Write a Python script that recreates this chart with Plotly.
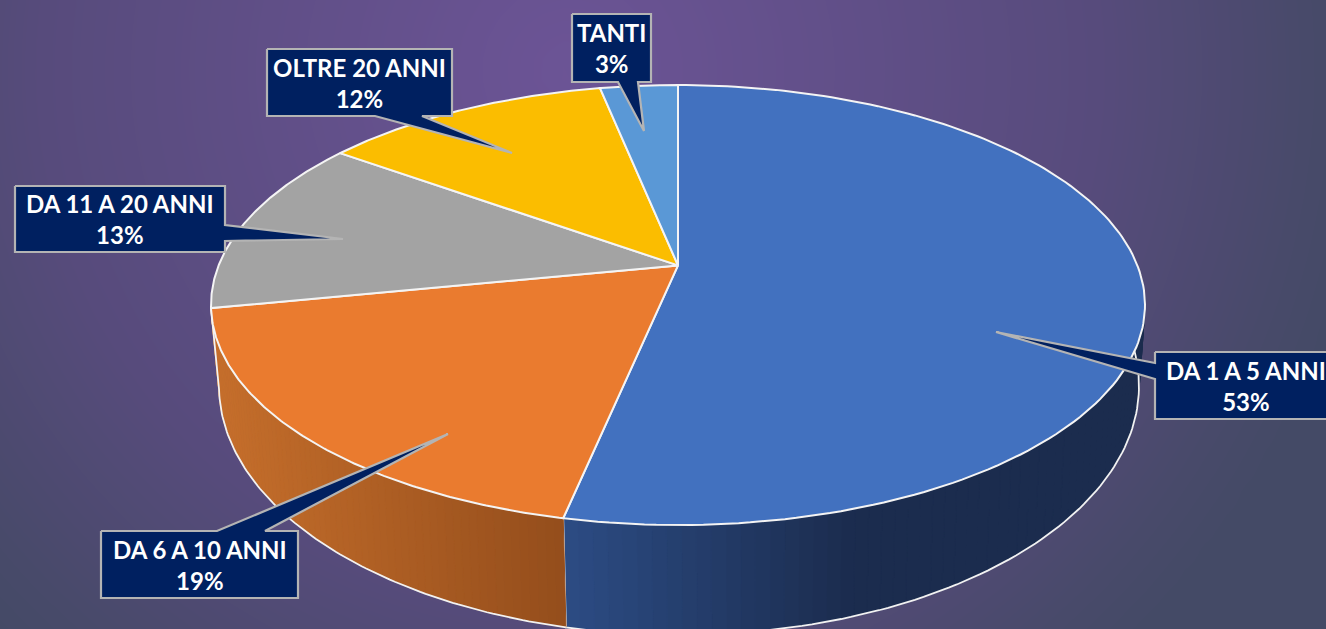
import numpy as np
import plotly.graph_objects as go

# ---- data ----
categories = ["DA 1 A 5 ANNI", "DA 6 A 10 ANNI", "DA 11 A 20 ANNI", "OLTRE 20 ANNI", "TANTI"]
shares = [53.3, 18.6, 13.0, 11.9, 3.2]
colors = ["#4271BF", "#EA7B2F", "#A3A3A3", "#FBBD00", "#5A98D6"]

# ---- layout constants (pixels) ----
W, H = 1326, 629
K = 0.18                     # perspective strength
TOP = dict(cx=678, cy=305, a=467, b=220)
BOT = dict(cx=679, cy=386, a=460, b=249)
SIDE_START = 85.0            # degrees clockwise from the back where the wall emerges
SIDE_GRAD = {
    0: ((565, "#2C4C84"), (850, "#1B2C4E")),
    1: ((225, "#C56E2B"), (560, "#954E1C")),
}
NAVY, EDGE = "#002060", "#B4B4B4"
# box x0, x1, y0, y1, pointer base (2 points), tip, text centre
CALLOUTS = [
    (1155, 1340, 352, 419, [(1155, 379), (1155, 363)], (996, 332), 1246),
    (101, 298, 531, 598, [(265, 531), (217, 531)], (448, 434), 200),
    (15, 225, 186, 252, [(225, 225), (225, 241)], (343, 239), 120),
    (267, 452, 49, 116, [(422, 116), (375, 116)], (512, 153), 359),
    (572, 651, 14, 82, [(638, 82), (618, 82)], (644, 131), 611),
]


def project(phi_deg, e):
    """Angle clockwise from the back of the disc -> pixel position."""
    p = np.radians(phi_deg)
    u, v = np.sin(p), -np.cos(p)
    d = 1 - K * v
    return (e["cx"] + e["a"] * np.sqrt(1 - K**2) * u / d,
            e["cy"] - e["b"] * K + e["b"] * (1 - K**2) * v / d)


def hex2rgb(h):
    return np.array([int(h[i:i + 2], 16) for i in (1, 3, 5)], float)


fig = go.Figure()

# background glow
gx = np.linspace(0, W, 67)
gy = np.linspace(0, H, 33)
GX, GY = np.meshgrid(gx, gy)
glow = np.clip(np.hypot((GX - 570) / 800, (GY - 70) / 800), 0, 1)
fig.add_trace(go.Heatmap(
    x=gx, y=gy, z=glow, zmin=0, zmax=1, zsmooth="best", showscale=False, hoverinfo="skip",
    colorscale=[[0, "#6C5496"], [0.66, "#574B7C"], [0.92, "#484A6A"], [1, "#444A66"]]))

edges = np.cumsum([0] + shares) / sum(shares) * 360

# walls with horizontal gradient
for i, stops in SIDE_GRAD.items():
    lo = max(edges[i], SIDE_START)
    hi = edges[i + 1]
    steps = np.linspace(lo, hi, 71)
    (x0, c0), (x1, c1) = stops
    c0, c1 = hex2rgb(c0), hex2rgb(c1)
    for s, t in zip(steps[:-1], steps[1:]):
        ph = np.array([s, t])
        tx, ty = project(ph, TOP)
        bx, by = project(ph, BOT)
        f = np.clip((bx.mean() - x0) / (x1 - x0), 0, 1)
        r, g, b = c0 + (c1 - c0) * f
        col = f"rgb({r:.0f},{g:.0f},{b:.0f})"
        fig.add_trace(go.Scatter(
            x=[tx[0], tx[1], bx[1], bx[0], tx[0]], y=[ty[0], ty[1], by[1], by[0], ty[0]],
            mode="lines", fill="toself", fillcolor=col, line=dict(color=col, width=1),
            hoverinfo="skip", showlegend=False))
    # wall outline
    ph = np.linspace(lo, hi, 100)
    bx, by = project(ph, BOT)
    tx, ty = project(hi, TOP)
    fig.add_trace(go.Scatter(
        x=list(bx) + [float(tx)], y=list(by) + [float(ty)], mode="lines",
        line=dict(color="#F2F2F2", width=1.8), hoverinfo="skip", showlegend=False))

# top faces
ax, ay = TOP["cx"], TOP["cy"] - TOP["b"] * K
for i, name in enumerate(categories):
    ph = np.linspace(edges[i], edges[i + 1], 160)
    x, y = project(ph, TOP)
    fig.add_trace(go.Scatter(
        x=[ax] + list(x) + [ax], y=[ay] + list(y) + [ay], mode="lines", fill="toself",
        fillcolor=colors[i], line=dict(color="#F4F4F4", width=2),
        name=name, hoverinfo="name", showlegend=False))

# callouts
for i, (x0, x1, y0, y1, base, tip, tx) in enumerate(CALLOUTS):
    (b1x, b1y), (b2x, b2y) = base
    if b1y == y0 and b2y == y0:      # pointer on top edge
        pts = [(x0, y0), (b2x, y0), tip, (b1x, y0), (x1, y0), (x1, y1), (x0, y1)]
    elif b1y == y1 and b2y == y1:    # pointer on bottom edge
        pts = [(x0, y0), (x1, y0), (x1, y1), (b1x, y1), tip, (b2x, y1), (x0, y1)]
    elif b1x == x1:                  # pointer on right edge
        pts = [(x0, y0), (x1, y0), (x1, b1y), tip, (x1, b2y), (x1, y1), (x0, y1)]
    else:                            # pointer on left edge
        pts = [(x0, y0), (x1, y0), (x1, y1), (x0, y1), (x0, b1y), tip, (x0, b2y)]
    pts.append(pts[0])
    fig.add_trace(go.Scatter(
        x=[p[0] for p in pts], y=[p[1] for p in pts], mode="lines", fill="toself",
        fillcolor=NAVY, line=dict(color=EDGE, width=2.2), hoverinfo="skip", showlegend=False))
    fig.add_annotation(
        x=tx, y=(y0 + y1) / 2, xref="x", yref="y", showarrow=False, align="center",
        text=f"{categories[i]}<br>{round(shares[i])}%",
        font=dict(family="Lato", size=24, color="white", weight="bold"))

fig.update_layout(
    width=W, height=H, margin=dict(l=0, r=0, t=0, b=0), autosize=False,
    paper_bgcolor="#554A78", plot_bgcolor="rgba(0,0,0,0)", showlegend=False,
    xaxis=dict(range=[0, W], visible=False, fixedrange=True),
    yaxis=dict(range=[H, 0], visible=False, fixedrange=True),
)
fig.write_html("out.html", config={"displayModeBar": False},
               post_script="document.body.style.margin='0';document.documentElement.style.overflow='hidden';")
